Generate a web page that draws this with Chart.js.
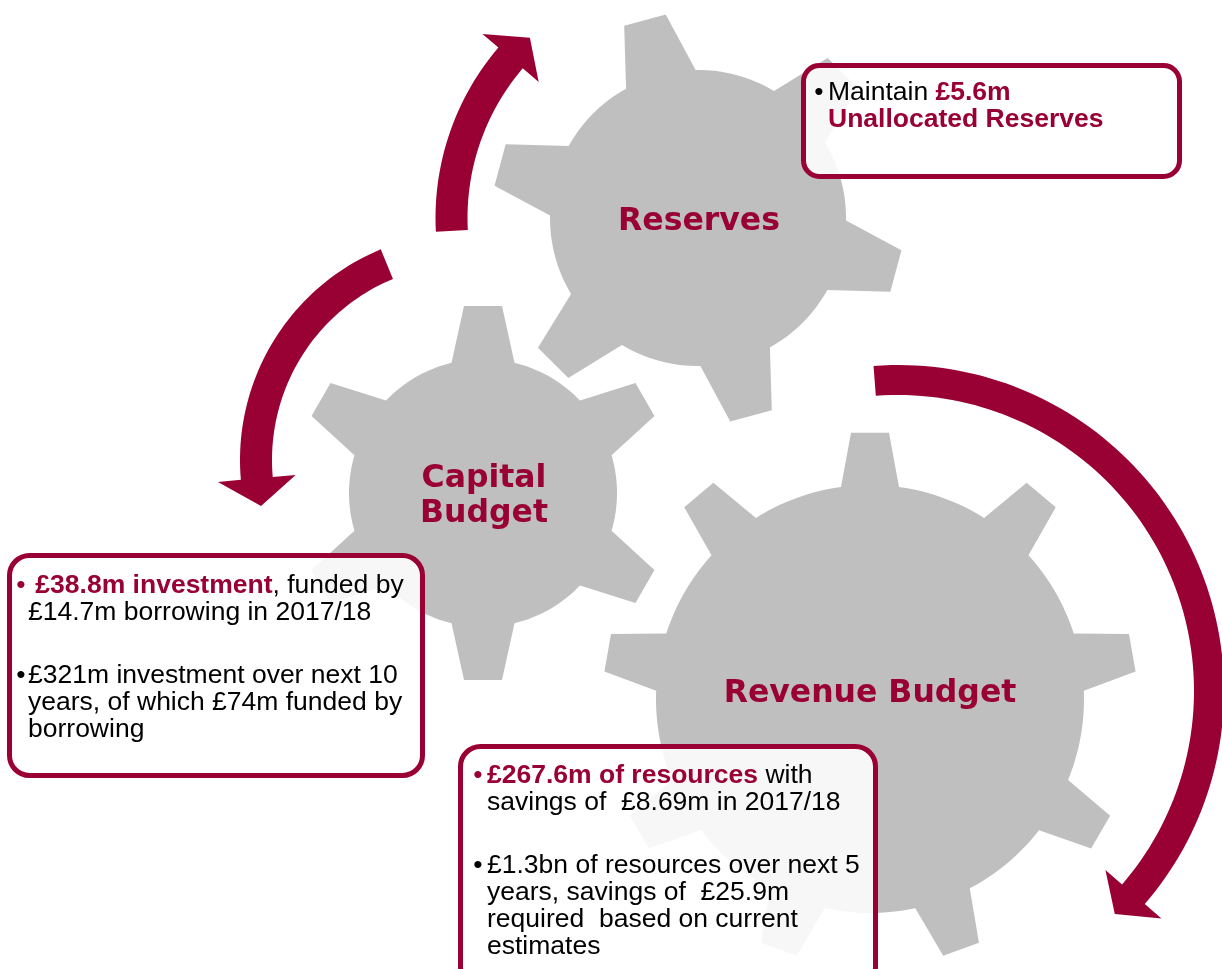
<!DOCTYPE html>
<html lang="en">
<head>
<meta charset="utf-8">
<title>Reserves, Capital Budget, Revenue Budget</title>
<script src="https://cdn.jsdelivr.net/npm/chart.js@4.4.1/dist/chart.umd.min.js"></script>
<style>
  html, body { margin: 0; padding: 0; background: #ffffff; overflow: hidden; }
  #chartBox { position: relative; width: 1222px; height: 969px; }
</style>
</head>
<body>
<div id="chartBox"><canvas id="gearChart"></canvas></div>
<script>
// DATA
const gearNames = [["Reserves"], ["Capital", "Budget"], ["Revenue Budget"]];
const gearTeeth = [6, 6, 9];

// ** marks the red bold parts, "" is a gap between bullets
const reservesNotes = ["•Maintain **£5.6m**", "**Unallocated Reserves**"];
const capitalNotes = [
  "•** £38.8m investment**, funded by",
  "£14.7m borrowing in 2017/18",
  "",
  "•£321m investment over next 10",
  "years, of which £74m funded by",
  "borrowing"
];
const revenueNotes = [
  "•**£267.6m of resources** with",
  "savings of  £8.69m in 2017/18",
  "",
  "•£1.3bn of resources over next 5",
  "years, savings of  £25.9m",
  "required  based on current",
  "estimates"
];
const boxNotes = [reservesNotes, capitalNotes, revenueNotes];

// LAYOUT (page pixels, y down)
const W = 1222, H = 969;
const RED = "#990033";
const GREY = "#bfbfbf";
const BODY_FONT = "26.5px 'Liberation Sans', Arial, sans-serif";
const BOLD_FONT = "bold 26.5px 'Liberation Sans', Arial, sans-serif";
const GEAR_FONT = "bold 31.5px 'DejaVu Sans', Verdana, sans-serif";

const gearLayout = [
  { cx: 698, cy: 218, rBody: 148, rOuter: 206, offset: 15, baseW: 72, tipW: 43, labelX: 699, labelY: 230 },
  { cx: 483, cy: 493, rBody: 134, rOuter: 188, offset: 30, baseW: 63, tipW: 38, labelX: 484, labelY: 487 },
  { cx: 870, cy: 699, rBody: 214, rOuter: 267, offset: -90, baseW: 58, tipW: 38, labelX: 870, labelY: 702 }
];

const arrowLayout = [
  { cx: 698, cy: 218, r: 246.5, width: 32, from: 177, to: 220.5, tip: 227, head: 37 },
  { cx: 468, cy: 460, r: 212, width: 32, from: 247.5, to: 175, tip: 167.5, head: 39 },
  { cx: 898, cy: 691, r: 311, width: 30, from: 265.7, to: 400.8, tip: 405.8, head: 37 }
];

const boxLayout = [
  { x: 803.5, y: 65.5, w: 376, h: 111, radius: 16, bulletX: 819, textX: 828, top: 100 },
  { x: 9.5, y: 555.5, w: 413, h: 220, radius: 20, bulletX: 21, textX: 28, top: 593 },
  { x: 460.5, y: 746.5, w: 415, h: 240, radius: 20, bulletX: 478, textX: 487, top: 783 }
];

// SHAPES
function rad(d) { return d * Math.PI / 180; }

function polar(c, r, deg) {
  return { x: c.cx + r * Math.cos(rad(deg)), y: c.cy + r * Math.sin(rad(deg)) };
}

// start at the leftmost vertex and end on the rightmost one,
// so the filler's x clip spans the whole shape
function ringFromLeft(ring) {
  let li = 0, ri = 0;
  ring.forEach((p, i) => {
    if (p.x < ring[li].x) li = i;
    if (p.x > ring[ri].x) ri = i;
  });
  const out = ring.slice(li).concat(ring.slice(0, li));
  out.push(ring[li], ring[ri]);
  return out;
}

function gearPoints(g, teeth) {
  const ring = [];
  const step = 360 / teeth;
  const half = Math.asin(g.baseW / 2 / g.rBody) * 180 / Math.PI;
  const hw = g.tipW / 2;
  const ro = Math.sqrt(g.rOuter * g.rOuter - hw * hw);
  for (let i = 0; i < teeth; i++) {
    const a = g.offset + i * step;
    const ux = Math.cos(rad(a)), uy = Math.sin(rad(a));
    ring.push(polar(g, g.rBody, a - half));
    ring.push({ x: g.cx + ro * ux + hw * uy, y: g.cy + ro * uy - hw * ux });
    ring.push({ x: g.cx + ro * ux - hw * uy, y: g.cy + ro * uy + hw * ux });
    ring.push(polar(g, g.rBody, a + half));
    const a0 = a + half, a1 = a + step - half;
    const n = Math.ceil((a1 - a0) / 2);
    for (let k = 1; k < n; k++) ring.push(polar(g, g.rBody, a0 + (a1 - a0) * k / n));
  }
  return ringFromLeft(ring);
}

function arrowPoints(a) {
  const ring = [];
  const n = Math.ceil(Math.abs(a.to - a.from) / 1.5);
  for (let k = 0; k <= n; k++) ring.push(polar(a, a.r + a.width / 2, a.from + (a.to - a.from) * k / n));
  ring.push(polar(a, a.r + a.head, a.to));
  ring.push(polar(a, a.r, a.tip));
  ring.push(polar(a, a.r - a.head, a.to));
  for (let k = n; k >= 0; k--) ring.push(polar(a, a.r - a.width / 2, a.from + (a.to - a.from) * k / n));
  return ringFromLeft(ring);
}

// borderDash switches off the fast path, which flattens near-vertical runs of points
const shapeStyle = {
  showLine: true,
  fill: "shape",
  borderColor: "rgba(0,0,0,0)",
  borderWidth: 0,
  borderDash: [2, 2],
  pointRadius: 0,
  pointHoverRadius: 0,
  clip: false
};

const datasets = [];
gearLayout.forEach((g, i) => {
  datasets.push(Object.assign({}, shapeStyle, {
    label: gearNames[i].join(" "),
    data: gearPoints(g, gearTeeth[i]),
    backgroundColor: GREY,
    order: 2
  }));
});
arrowLayout.forEach((a, i) => {
  datasets.push(Object.assign({}, shapeStyle, {
    label: "arrow " + (i + 1),
    data: arrowPoints(a),
    backgroundColor: RED,
    order: 1
  }));
});

// TEXT BOXES + GEAR NAMES
function roundBox(ctx, x, y, w, h, r) {
  ctx.beginPath();
  ctx.moveTo(x + r, y);
  ctx.arcTo(x + w, y, x + w, y + h, r);
  ctx.arcTo(x + w, y + h, x, y + h, r);
  ctx.arcTo(x, y + h, x, y, r);
  ctx.arcTo(x, y, x + w, y, r);
  ctx.closePath();
}

const notesPlugin = {
  id: "notes",
  afterDatasetsDraw(chart) {
    const { ctx } = chart;
    const sx = chart.scales.x, sy = chart.scales.y;
    ctx.save();

    ctx.fillStyle = RED;
    ctx.textAlign = "center";
    ctx.textBaseline = "alphabetic";
    ctx.font = GEAR_FONT;
    gearLayout.forEach((g, i) => {
      gearNames[i].forEach((line, j) => {
        ctx.fillText(line, sx.getPixelForValue(g.labelX), sy.getPixelForValue(g.labelY + j * 35));
      });
    });

    boxLayout.forEach((b, i) => {
      const left = sx.getPixelForValue(b.x), top = sy.getPixelForValue(b.y);
      const right = sx.getPixelForValue(b.x + b.w), bottom = sy.getPixelForValue(b.y + b.h);
      roundBox(ctx, left, top, right - left, bottom - top, b.radius);
      ctx.fillStyle = "rgba(255,255,255,0.88)";
      ctx.fill();
      ctx.lineWidth = 5;
      ctx.strokeStyle = RED;
      ctx.stroke();

      let base = b.top;
      boxNotes[i].forEach(line => {
        if (line === "") { base += 36; return; }
        const hasBullet = line.startsWith("•");
        const runs = (hasBullet ? line.slice(1) : line).split("**")
          .map((t, k) => ({ t, bold: k % 2 === 1 }))
          .filter(r => r.t);
        const yPx = sy.getPixelForValue(base);
        if (hasBullet) {
          ctx.font = BODY_FONT;
          ctx.textAlign = "center";
          ctx.fillStyle = runs[0].bold ? RED : "#000000";
          ctx.fillText("•", sx.getPixelForValue(b.bulletX), yPx);
        }
        ctx.textAlign = "left";
        let xPx = sx.getPixelForValue(b.textX);
        runs.forEach(r => {
          ctx.font = r.bold ? BOLD_FONT : BODY_FONT;
          ctx.fillStyle = r.bold ? RED : "#000000";
          ctx.fillText(r.t, xPx, yPx);
          xPx += ctx.measureText(r.t).width;
        });
        base += 27;
      });
    });
    ctx.restore();
  }
};

// CHART
const gearChart = new Chart(document.getElementById("gearChart"), {
  type: "scatter",
  data: { datasets },
  options: {
    responsive: true,
    maintainAspectRatio: false,
    animation: false,
    events: [],
    layout: { padding: 0 },
    scales: {
      x: { type: "linear", min: 0, max: W, display: false },
      y: { type: "linear", min: 0, max: H, reverse: true, display: false }
    },
    plugins: {
      legend: { display: false },
      tooltip: { enabled: false }
    }
  },
  plugins: [notesPlugin]
});
</script>
</body>
</html>
